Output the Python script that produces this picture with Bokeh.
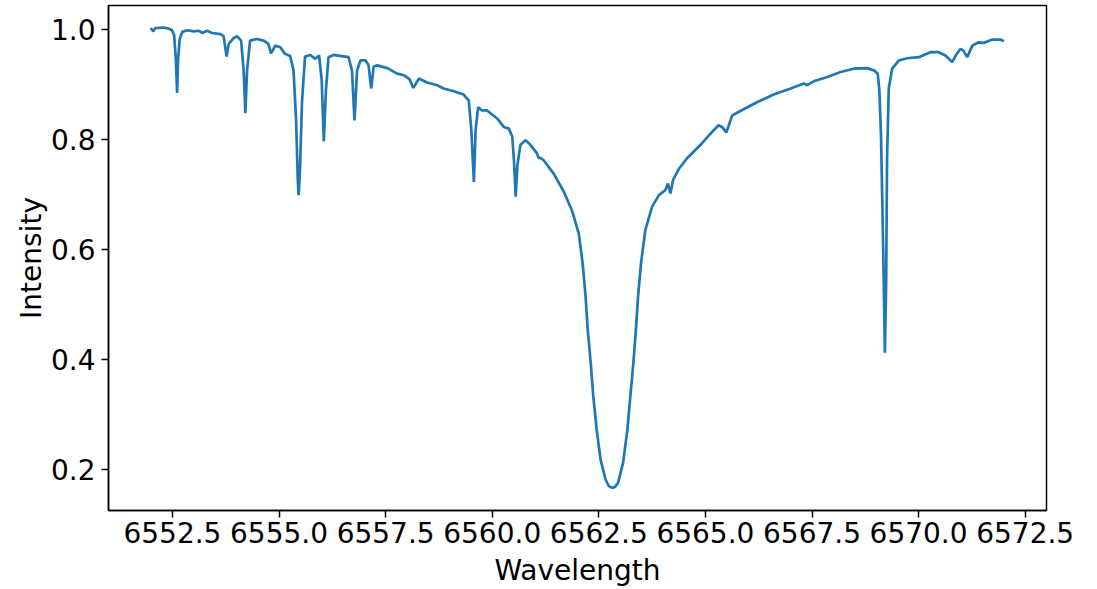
from bokeh.plotting import figure
from bokeh.models import Range1d, FixedTicker, PrintfTickFormatter
from bokeh.embed import file_html
from bokeh.resources import INLINE

wavelength = [
    6551.99, 6552.05, 6552.10, 6552.30, 6552.41, 6552.49, 6552.54, 6552.58, 6552.61, 6552.63,
    6552.67, 6552.73, 6552.85, 6553.00, 6553.12, 6553.20, 6553.31, 6553.43, 6553.63, 6553.70,
    6553.77, 6553.82, 6553.94, 6554.02, 6554.11, 6554.17, 6554.21, 6554.25, 6554.32, 6554.48,
    6554.64, 6554.75, 6554.81, 6554.85, 6554.91, 6555.03, 6555.14, 6555.26, 6555.34, 6555.40,
    6555.44, 6555.46, 6555.49, 6555.54, 6555.61, 6555.73, 6555.85, 6555.94, 6556.00, 6556.05,
    6556.10, 6556.16, 6556.28, 6556.47, 6556.63, 6556.71, 6556.77, 6556.83, 6556.91, 6557.03,
    6557.10, 6557.16, 6557.22, 6557.30, 6557.54, 6557.77, 6557.93, 6558.06, 6558.15, 6558.28,
    6558.47, 6558.71, 6558.86, 6559.10, 6559.33, 6559.45, 6559.51, 6559.57, 6559.61, 6559.67,
    6559.76, 6559.88, 6560.12, 6560.27, 6560.39, 6560.47, 6560.51, 6560.55, 6560.59, 6560.66,
    6560.78, 6560.90, 6561.05, 6561.09, 6561.13, 6561.21, 6561.44, 6561.68, 6561.88, 6562.03,
    6562.12, 6562.19, 6562.24, 6562.31, 6562.37, 6562.45, 6562.54, 6562.66, 6562.73, 6562.81,
    6562.88, 6562.95, 6563.07, 6563.17, 6563.24, 6563.31, 6563.37, 6563.42, 6563.49, 6563.59,
    6563.75, 6563.91, 6564.06, 6564.12, 6564.18, 6564.24, 6564.38, 6564.57, 6564.88,
    6565.12, 6565.31, 6565.39, 6565.49, 6565.63, 6565.82, 6566.21, 6566.60, 6567.00, 6567.31,
    6567.39, 6567.54, 6567.86, 6568.17, 6568.48, 6568.79, 6568.95, 6569.04, 6569.08, 6569.12,
    6569.17, 6569.21, 6569.24, 6569.26, 6569.30, 6569.38, 6569.54, 6569.73, 6570.01, 6570.12,
    6570.28, 6570.47, 6570.63, 6570.79, 6570.87, 6570.98, 6571.05, 6571.14, 6571.26, 6571.41,
    6571.53, 6571.73, 6571.92, 6572.00,
]

intensity = [
    1.003, 0.997, 1.003, 1.004, 1.002, 0.999, 0.990, 0.944, 0.885, 0.944,
    0.983, 0.996, 0.999, 0.997, 0.998, 0.994, 0.998, 0.994, 0.992, 0.988,
    0.951, 0.974, 0.985, 0.988, 0.980, 0.926, 0.848, 0.926, 0.980, 0.983,
    0.980, 0.974, 0.957, 0.962, 0.971, 0.968, 0.956, 0.952, 0.926, 0.835,
    0.726, 0.699, 0.744, 0.871, 0.951, 0.954, 0.947, 0.953, 0.908, 0.797,
    0.890, 0.950, 0.954, 0.952, 0.950, 0.926, 0.835, 0.926, 0.944, 0.944,
    0.935, 0.893, 0.933, 0.935, 0.930, 0.920, 0.917, 0.910, 0.894, 0.911,
    0.904, 0.899, 0.893, 0.888, 0.882, 0.871, 0.817, 0.723, 0.817, 0.859,
    0.853, 0.853, 0.838, 0.823, 0.820, 0.805, 0.762, 0.696, 0.753, 0.790,
    0.799, 0.790, 0.775, 0.766, 0.767, 0.762, 0.738, 0.705, 0.669, 0.629,
    0.575, 0.514, 0.454, 0.393, 0.333, 0.272, 0.218, 0.181, 0.170, 0.166,
    0.168, 0.175, 0.212, 0.272, 0.333, 0.393, 0.454, 0.514, 0.575, 0.635,
    0.678, 0.699, 0.708, 0.720, 0.702, 0.726, 0.747, 0.766, 0.790,
    0.811, 0.826, 0.823, 0.813, 0.844, 0.852, 0.868, 0.882, 0.893, 0.902,
    0.899, 0.906, 0.914, 0.923, 0.929, 0.930, 0.926, 0.920, 0.890, 0.803,
    0.599, 0.412, 0.545, 0.762, 0.893, 0.929, 0.944, 0.948, 0.950, 0.954,
    0.959, 0.959, 0.953, 0.941, 0.953, 0.965, 0.962, 0.950, 0.971, 0.977,
    0.976, 0.982, 0.982, 0.979,
]

x_ticks = [6552.5, 6555.0, 6557.5, 6560.0, 6562.5, 6565.0, 6567.5, 6570.0, 6572.5]
y_ticks = [0.2, 0.4, 0.6, 0.8, 1.0]

p = figure(
    width=1090, height=589,
    output_backend="svg", toolbar_location=None,
    x_range=Range1d(6551.0, 6573.0), y_range=Range1d(0.125, 1.044),
    min_border_left=108, min_border_right=44, min_border_top=5, min_border_bottom=78,
    background_fill_color="white", border_fill_color="white",
)

p.line(wavelength, intensity, line_color="#1f77b4", line_width=2.7)

p.grid.visible = False
p.outline_line_color = "black"
p.outline_line_width = 1.5

p.xaxis.ticker = FixedTicker(ticks=x_ticks)
p.xaxis.formatter = PrintfTickFormatter(format="%.1f")
p.yaxis.ticker = FixedTicker(ticks=y_ticks)
p.yaxis.formatter = PrintfTickFormatter(format="%.1f")

for ax in (p.xaxis[0], p.yaxis[0]):
    ax.axis_line_color = "black"
    ax.axis_line_width = 1.5
    ax.major_tick_line_color = "black"
    ax.major_tick_line_width = 1.5
    ax.major_tick_in = 0
    ax.major_tick_out = 7
    ax.minor_tick_line_color = None
    ax.major_label_text_font = "DejaVu Sans"
    ax.major_label_text_font_size = "28px"
    ax.major_label_text_color = "black"
    ax.axis_label_text_font = "DejaVu Sans"
    ax.axis_label_text_font_size = "28px"
    ax.axis_label_text_font_style = "normal"
    ax.axis_label_text_color = "black"

p.xaxis.axis_label = "Wavelength"
p.yaxis.axis_label = "Intensity"
p.xaxis.major_label_standoff = 4
p.yaxis.major_label_standoff = 6
p.xaxis.axis_label_standoff = 8
p.yaxis.axis_label_standoff = 0

open("out.html", "w").write(file_html(p, INLINE))
